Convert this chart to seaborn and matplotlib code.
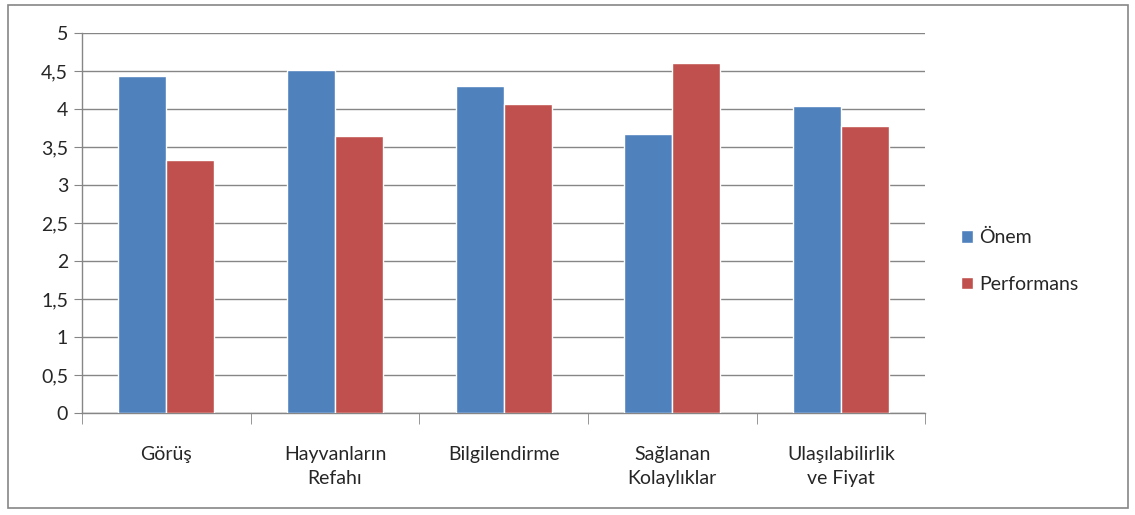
import pandas as pd
import matplotlib.pyplot as plt
import seaborn as sns
from matplotlib.patches import Rectangle
from matplotlib.ticker import FixedLocator, FuncFormatter

# Data
categories = ['Görüş', 'Hayvanların\nRefahı', 'Bilgilendirme', 'Sağlanan\nKolaylıklar', 'Ulaşılabilirlik\nve Fiyat']
onem = [4.43, 4.51, 4.30, 3.67, 4.04]
performans = [3.33, 3.64, 4.07, 4.60, 3.78]
series_names = ['Önem', 'Performans']

df = pd.DataFrame({
    'kategori': categories * 2,
    'seri': [series_names[0]] * len(categories) + [series_names[1]] * len(categories),
    'deger': onem + performans,
})

sns.set_style('white')
plt.rcParams['font.family'] = ['Lato', 'DejaVu Sans']

fig = plt.figure(figsize=(11.35, 5.15), dpi=100)
ax = fig.add_axes([0.0722, 0.198, 0.743, 0.738])

sns.barplot(data=df, x='kategori', y='deger', hue='seri', order=categories,
            palette=['#4F81BD', '#C0504D'], width=0.57, gap=0, saturation=1,
            ax=ax, zorder=3)

ax.set_xlim(-0.5, len(categories) - 0.5)
ax.set_ylim(0, 5)
ax.set_yticks([0, 0.5, 1, 1.5, 2, 2.5, 3, 3.5, 4, 4.5, 5])
ax.yaxis.set_major_formatter(FuncFormatter(lambda v, p: ('%g' % v).replace('.', ',')))
ax.grid(axis='y', color='#868686', linewidth=1, zorder=0)
ax.set_axisbelow(True)

ax.set_xlabel('')
ax.set_ylabel('')
for s in ['top', 'right']:
    ax.spines[s].set_visible(False)
for s in ['left', 'bottom']:
    ax.spines[s].set_color('#868686')
    ax.spines[s].set_linewidth(1)

ax.tick_params(axis='y', length=6, color='#868686', labelsize=14, pad=4, left=True)
ax.tick_params(axis='x', which='major', length=0, labelsize=14, pad=24)
ax.xaxis.set_minor_locator(FixedLocator([i - 0.5 for i in range(len(categories) + 1)]))
ax.tick_params(axis='x', which='minor', length=8, color='#868686', bottom=True)
for lab in ax.get_xticklabels():
    lab.set_linespacing(1.45)

leg = ax.legend(loc='center left', bbox_to_anchor=(1.022, 0.4), frameon=False,
                fontsize=14, handlelength=0.6, handleheight=0.6, handletextpad=0.3,
                labelspacing=1.5)

# outer chart frame
fig.patches.append(Rectangle((8 / 1135, 7 / 515), 1120 / 1135, 503 / 515,
                             transform=fig.transFigure, fill=False,
                             edgecolor='#868686', linewidth=1.2))

fig.savefig('out.png', dpi=100)
